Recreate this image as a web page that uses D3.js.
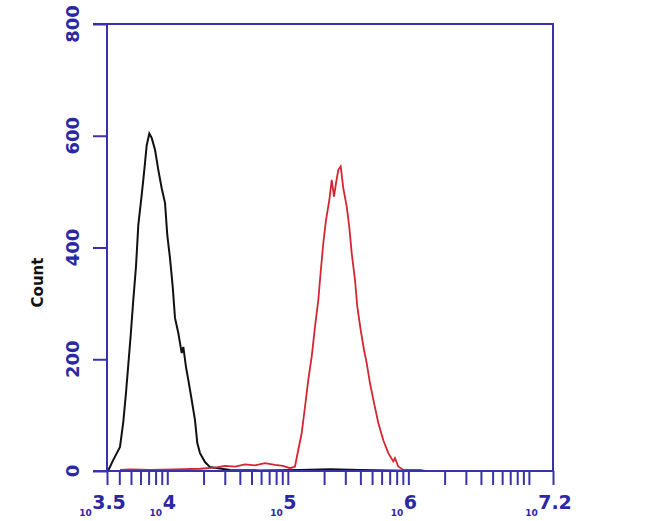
<!DOCTYPE html>
<html>
<head>
<meta charset="utf-8">
<script src="https://cdn.jsdelivr.net/npm/d3@7"></script>
<style>
  html, body { margin: 0; padding: 0; background: #ffffff; }
  svg { display: block; }
</style>
</head>
<body>
<svg id="chart" width="650" height="521"></svg>
<script>
// ---- data ----
const xDomainExp = [3.5, 7.2];
const yTicks = [0, 200, 400, 600, 800];
const xTickLabels = ["3.5", "4", "5", "6", "7.2"];
const yLabel = "Count";

// control (black) histogram: fluorescence intensity, count
const blackX = [3224, 3567, 4054, 4318, 4546, 4749, 4973, 5226, 5503, 5750, 6137, 6450, 6752, 7095, 7429, 7911, 8426, 8990, 9576, 10005, 10534, 11092, 11590, 12346, 13178, 13585, 14302, 14945, 15949, 16983, 17749, 18686, 20559, 22621, 33150, 58800, 126200, 223900, 397200, 704700, 1249000];
const blackCount = [0, 20, 43, 88, 140, 190, 243, 306, 366, 440, 494, 539, 583, 604, 596, 575, 539, 506, 480, 422, 381, 330, 274, 247, 211, 222, 186, 163, 127, 91, 50, 32, 16, 7, 2, 1, 2, 3, 2, 1, 0];

// stained (red) histogram
const redX = [4054, 4908, 7192, 11590, 18686, 24890, 30130, 36480, 44160, 53460, 64720, 78350, 91270, 104300, 114700, 122200, 130400, 138900, 147900, 157900, 168100, 179100, 187500, 197000, 207400, 221000, 231300, 241700, 251000, 262400, 274700, 288700, 308000, 323700, 338800, 360900, 377100, 402500, 428600, 451300, 480700, 518800, 563400, 619700, 681900, 750300, 774900, 825300, 908000, 1249000, 1374000];
const redCount = [2, 3, 2, 3, 4, 6, 9, 8, 12, 10, 14, 11, 9, 5, 8, 38, 68, 115, 163, 205, 258, 306, 357, 408, 449, 485, 521, 491, 515, 539, 545, 506, 473, 437, 390, 342, 294, 252, 217, 193, 157, 122, 86, 55, 32, 17, 23, 8, 2, 2, 0];

// ---- layout ----
const L = 107, R = 553, T = 24, B = 471;
const axisColor = "#3a33a8";
const textColor = "#2c28a4";

const svg = d3.select("#chart");
svg.append("rect").attr("width", 650).attr("height", 521).attr("fill", "#ffffff");

const x = d3.scaleLog()
  .domain([Math.pow(10, xDomainExp[0]), Math.pow(10, xDomainExp[1])])
  .range([L, R]);
const y = d3.scaleLinear().domain([0, 800]).range([B, T]);

const line = d3.line()
  .x(d => x(d[0]))
  .y(d => y(d[1]))
  .curve(d3.curveLinear);

const blackData = blackX.map((v, i) => [v, blackCount[i]]);
const redData = redX.map((v, i) => [v, redCount[i]]);

svg.append("path").datum(blackData)
  .attr("d", line)
  .attr("fill", "none")
  .attr("stroke", "#111111")
  .attr("stroke-width", 2);

svg.append("path").datum(redData)
  .attr("d", line)
  .attr("fill", "none")
  .attr("stroke", "#d42630")
  .attr("stroke-width", 1.8);

// ---- frame ----
const frame = svg.append("g").attr("stroke", axisColor).attr("stroke-width", 2).attr("fill", "none");
frame.append("line").attr("x1", L).attr("x2", L).attr("y1", T).attr("y2", B);
frame.append("line").attr("x1", R).attr("x2", R).attr("y1", T).attr("y2", B);

// ---- y axis (ticks to the left, labels rotated) ----
const yAxis = d3.axisLeft(y).tickValues(yTicks).tickSize(14).tickSizeOuter(0).tickFormat("");
const gy = svg.append("g").attr("transform", `translate(${L},0)`).call(yAxis);
gy.select(".domain").remove();
gy.selectAll(".tick line").attr("stroke", axisColor).attr("stroke-width", 2);
frame.append("line").attr("x1", L - 14).attr("x2", R + 1).attr("y1", T).attr("y2", T);
frame.append("line").attr("x1", L - 14).attr("x2", R + 1).attr("y1", B).attr("y2", B);

svg.append("g").selectAll("text").data(yTicks).join("text")
  .attr("transform", d => `translate(79,${y(d)}) rotate(-90)`)
  .attr("text-anchor", "middle")
  .attr("font-family", "DejaVu Sans, sans-serif")
  .attr("font-size", 18)
  .attr("font-weight", "bold")
  .attr("fill", textColor)
  .text(d => d);

// ---- x axis (log, minor ticks downward) ----
const xTickVals = [x.domain()[0]].concat(x.ticks(), [x.domain()[1]]);
const xAxis = d3.axisBottom(x).tickValues(xTickVals).tickSize(14).tickSizeOuter(0).tickFormat("");
const gx = svg.append("g").attr("transform", `translate(0,${B})`).call(xAxis);
gx.select(".domain").remove();
gx.selectAll(".tick line").attr("stroke", axisColor).attr("stroke-width", 2);

const labG = svg.append("g");
xTickLabels.forEach(lab => {
  const px = x(Math.pow(10, +lab)) + 2;
  const big = labG.append("text")
    .attr("x", px).attr("y", 509)
    .attr("text-anchor", "middle")
    .attr("font-family", "DejaVu Sans, sans-serif")
    .attr("font-size", 19)
    .attr("font-weight", "bold")
    .attr("fill", textColor)
    .text(lab);
  const bb = big.node().getBBox();
  labG.append("text")
    .attr("x", bb.x - 0.5).attr("y", 516)
    .attr("text-anchor", "end")
    .attr("font-family", "DejaVu Sans, sans-serif")
    .attr("font-size", 9)
    .attr("font-weight", "bold")
    .attr("fill", textColor)
    .text("10");
});

// ---- y label ----
svg.append("text")
  .attr("transform", `translate(43,${(T + B) / 2 + 35}) rotate(-90)`)
  .attr("text-anchor", "middle")
  .attr("font-family", "DejaVu Sans, sans-serif")
  .attr("font-size", 15)
  .attr("font-weight", "bold")
  .attr("fill", "#111111")
  .text(yLabel);
</script>
</body>
</html>
